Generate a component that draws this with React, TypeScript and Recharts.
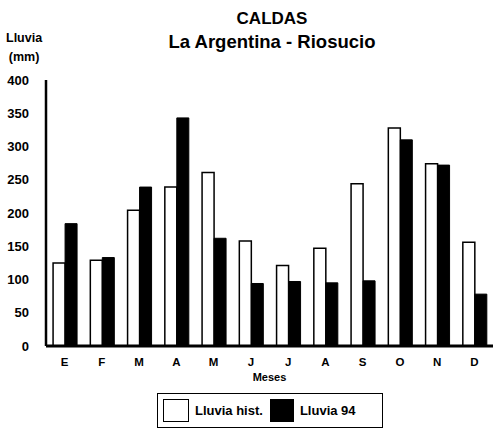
import React from "react";
import { BarChart, Bar, XAxis, YAxis, Legend } from "recharts";

// Lluvia mensual (mm), La Argentina - Riosucio
const meses = ["E", "F", "M", "A", "M", "J", "J", "A", "S", "O", "N", "D"];
const lluviaHist = [125, 129, 204, 239, 261, 158, 121, 147, 244, 328, 274, 156];
const lluvia94 = [184, 133, 239, 343, 162, 94, 97, 95, 98, 310, 272, 78];
const yTicks = [0, 50, 100, 150, 200, 250, 300, 350, 400];

const data = meses.map((m, i) => ({ mes: m, hist: lluviaHist[i], y94: lluvia94[i] }));

const font = "'Liberation Sans', Arial, sans-serif";

function LegendBox() {
  return (
    <div
      style={{
        display: "flex",
        alignItems: "center",
        border: "1px solid #000",
        width: 226,
        height: 35,
        boxSizing: "border-box",
        padding: "0 5px",
        fontFamily: font,
        fontWeight: "bold",
        fontSize: 13,
        color: "#000",
      }}
    >
      <span style={{ width: 26, height: 23, border: "1.5px solid #000", background: "#fff", boxSizing: "border-box" }} />
      <span style={{ marginLeft: 6 }}>Lluvia hist.</span>
      <span style={{ width: 24, height: 23, background: "#000", marginLeft: 7 }} />
      <span style={{ marginLeft: 6 }}>Lluvia 94</span>
    </div>
  );
}

export default function App() {
  return (
    <div style={{ position: "absolute", left: 0, top: 0, width: 493, height: 428, background: "#fff", fontFamily: font }}>
      <div style={{ position: "absolute", left: 0, width: 493, top: 8, paddingLeft: 51, boxSizing: "border-box", textAlign: "center", fontWeight: "bold", color: "#000" }}>
        <div style={{ fontSize: 17, lineHeight: "22px" }}>CALDAS</div>
        <div style={{ fontSize: 18.5, lineHeight: "24px" }}>La Argentina - Riosucio</div>
      </div>
      <div style={{ position: "absolute", left: 6, top: 29, fontWeight: "bold", fontSize: 12.5, lineHeight: "19px", textAlign: "center", color: "#000" }}>
        Lluvia
        <br />
        (mm)
      </div>
      <BarChart
        width={493}
        height={428}
        data={data}
        margin={{ top: 80, right: 0, bottom: 52, left: 0 }}
        barCategoryGap="19%"
        barGap={0}
      >
        <XAxis
          dataKey="mes"
          height={30}
          tickLine={false}
          tickMargin={6}
          axisLine={{ stroke: "#000", strokeWidth: 3 }}
          tick={{ fill: "#000", fontSize: 11.5, fontWeight: "bold", fontFamily: font }}
          label={{ value: "Meses", position: "insideBottom", offset: -5, fill: "#000", fontSize: 11, fontWeight: "bold", fontFamily: font }}
        />
        <YAxis
          width={46}
          domain={[0, 400]}
          ticks={yTicks}
          interval={0}
          tickLine={false}
          tickMargin={11}
          axisLine={{ stroke: "#000", strokeWidth: 2.5 }}
          tick={{ fill: "#000", fontSize: 13, fontWeight: "bold", fontFamily: font }}
        />
        <Legend
          layout="horizontal"
          verticalAlign="middle"
          align="center"
          wrapperStyle={{ position: "absolute", left: 157, top: 393, width: 226 }}
          content={() => <LegendBox />}
        />
        <Bar dataKey="hist" name="Lluvia hist." fill="#fff" stroke="#000" strokeWidth={1.5} isAnimationActive={false} />
        <Bar dataKey="y94" name="Lluvia 94" fill="#000" stroke="#000" strokeWidth={1} isAnimationActive={false} />
      </BarChart>
    </div>
  );
}
